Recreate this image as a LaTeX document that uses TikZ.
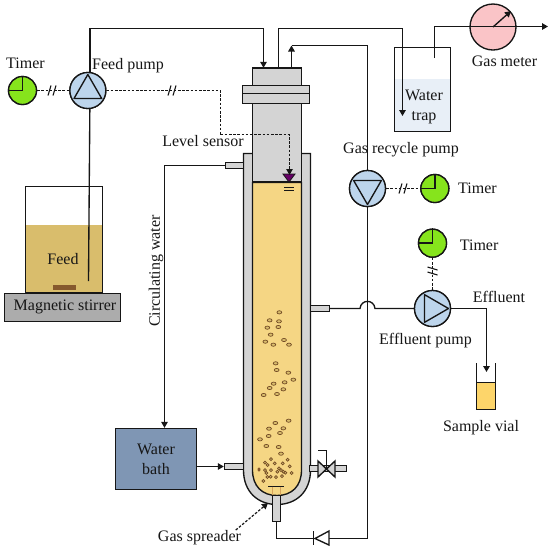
\documentclass[tikz,border=0pt]{standalone}
\usepackage{fontspec}
\setmainfont{Liberation Serif}
\usepackage{xcolor}
\usetikzlibrary{calc}
\usetikzlibrary{arrows.meta, positioning}
\definecolor{wall}{HTML}{D4D4D4}
\definecolor{broth}{HTML}{F5D684}
\definecolor{feedfill}{HTML}{D9BD6C}
\definecolor{pumpblue}{HTML}{BDD5EC}
\definecolor{clockgreen}{HTML}{86E41C}
\definecolor{bathblue}{HTML}{7F96B4}
\definecolor{trapblue}{HTML}{E8EFF7}
\definecolor{meterpink}{HTML}{FAC4C7}
\definecolor{vialgold}{HTML}{FDD56A}
\definecolor{ink}{HTML}{161616}

\begin{document}
\begin{tikzpicture}[x=1pt, y=-1pt,
    every node/.style={font=\fontsize{16}{18}\selectfont, text=ink, inner sep=0pt},
    every path/.style={draw=ink, line width=1.35pt},
    arr/.style = {-{Triangle[length=6pt,width=6.5pt]}},
    ctrl/.style = {dashed, dash pattern=on 2.6pt off 1.6pt, line width=1.2pt},
    timer/.style = {circle, draw, fill=clockgreen, minimum size=28pt},
    pump/.style = {circle, draw, fill=pumpblue, minimum size=36pt},
    box/.style = {rectangle, draw, minimum height=#1},
    port/.style = {rectangle, draw, fill=wall, minimum height=6pt},
    slashes/.pic = {\draw[line width=1.1pt] (-4,5) -- (-1,-5) (1,5) -- (4,-5);}
]
\useasboundingbox[draw=none] (0,0) rectangle (550,550);

% feed side
\node (tfeed) [timer] at (22.5,90.5) {};
\node (pfeed) [pump, right=32pt of tfeed] {};
\node (ltfeed) [above=6pt of tfeed, xshift=3pt] {Timer};
\node (lpfeed) at (128,66) {Feed pump};

\path[fill=feedfill, draw=none] (26,225) rectangle (102,292);
\node (beaker) [box=106pt, minimum width=77pt] at (64,239.5) {};
\node (stirrer) [box=28pt, minimum width=116pt, fill=gray!65!white] at (62.5,307.5) {};
\node (lstirrer) at (65,307) {Magnetic stirrer};
\path[fill=brown!70!black, draw=none] (53,285) rectangle (76,290);
\node (lfeed) at (63,259) {Feed};

% reactor
\path[fill=wall] (243.5,153.5) -- (243.5,470) .. controls (243.5,492) and (258,504.5) .. (277,504.5)
    .. controls (296,504.5) and (310.5,492) .. (310.5,470) -- (310.5,153.5) -- cycle;
\path[fill=broth] (252.5,182.5) -- (252.5,470) .. controls (252.5,486) and (262,495.5) .. (277,495.5)
    .. controls (292,495.5) and (301.5,486) .. (301.5,470) -- (301.5,182.5) -- cycle;
\node (neck) [box=114pt, minimum width=49pt, fill=wall, anchor=south] at (277,182.5) {};
\node (head) [box=17pt, minimum width=49pt, fill=wall] at (277,77) {};
\node (flange) [box=18pt, minimum width=67pt, fill=wall] at (276,94.5) {};
\draw (242.5,93.5) -- (309.5,93.5);

\node (portup) [port, minimum width=18pt] at (234.5,165.5) {};
\node (portlow) [port, minimum width=19pt] at (234,466.5) {};
\node (portout) [port, minimum width=19pt] at (320,308.5) {};
\node (portdrain) [port, minimum width=37pt] at (328,468.5) {};
\node (spreader) [port, minimum width=8pt, minimum height=26pt] at (276.5,508.5) {};
\draw[very thick] (268,486.5) -- (284,486.5);
\draw[brown!60!broth, thin] (272.5,486.5) -- (272.5,495) (280.5,486.5) -- (280.5,495);

\foreach \bx/\by in {238/112,209/136,237/139,202/158,235/156,212/179,196/200,220/209,252/195,267/209,
    227/265,230/285,265/293,280/314,254/322,221/326,209/339,250/343,231/357,191/360,
    266/437,226/444,207/461,250/460,240/474,206/483,180/493,199/513,236/516,243/536}
  \draw[draw=brown!60!black, line width=0.7pt, fill=feedfill] ({200+\bx/3},{275+\by/3}) ellipse [x radius=2.4, y radius=1.6];
\foreach \bx/\by in {213/552,263/554,195/563,224/565,248/565,203/570,269/574,213/585,195/585,237/580,
    243/585,250/590,256/593,275/594,199/594,228/606,246/603,202/606,212/605,190/618,232/590}
  \draw[draw=brown!60!black, line width=0.7pt, fill=feedfill] ({200+\bx/3},{275+\by/3}) circle [radius=1.5];
\path[fill=brown!70!black, draw=none] (259,469.5) ellipse [x radius=1.5, y radius=2];

% level sensor
\path[fill=violet!80!black, line width=0.8pt] (283,174) -- (295,174) -- (289,182) -- cycle;
\draw[thin] (284,187) -- (294,187) (284,190) -- (294,190);
\coordinate (sensor) at (289.5,175);
\coordinate (sensorbend) at (220.5,134.5);
\draw[ctrl] (pfeed.east) -| (sensorbend);
\draw[ctrl, arr] (sensorbend) -| (sensor);
\pic at (172,90.5) {slashes};
\node (lsensor) at (203,141) {Level sensor};

% gas and feed lines
\node (trapwater) [rectangle, fill=trapblue, minimum width=56pt, minimum height=53pt] at (422.5,105) {};
\node (trap) [box=84pt, minimum width=56pt] at (422.5,89.5) {};
\node (ltrap) [align=center] at (424,107) {Water\\[2pt]trap};
\node (meter) [circle, draw, fill=meterpink, minimum size=46pt] at (493,27) {};
\node (lmeter) at (504.5,61) {Gas meter};
\node (precycle) [pump] at (367.5,188.5) {};
\node (trecycle) [timer, right=34pt of precycle] {};
\node (lprecycle) at (401,150) {Gas recycle pump};
\node (ltrecycle) [right=8pt of trecycle] {Timer};
\node (peffluent) [pump] at (432.5,308.5) {};
\node (teffluent) [timer, above=32pt of peffluent] {};
\node (lteffluent) [right=12pt of teffluent, yshift=-2pt] {Timer};
\node (lpeffluent) at (425.5,341) {Effluent pump};
\node (leffluent) at (499,297) {Effluent};

\coordinate (feedtop) at (263.5,28.5);
\coordinate (trapin) at (402.5,28.5);
\coordinate (trapend) at (402.5,116);
\coordinate (recycletop) at (291.5,45.5);
\coordinate (trapout) at (434.5,58);
\coordinate (meterout) at (548,26.5);
\coordinate (feedend) at (88.5,281);
\coordinate (valvein) at (321,538.5);
\coordinate (humpl) at (360,308.5);
\coordinate (humpr) at (375,308.5);
\coordinate (vialin) at (486.5,372);

\draw[arr] ([xshift=2pt]pfeed.north) |- (feedtop) -- (feedtop |- head.north);
\draw ([xshift=2pt]pfeed.south) -- (feedend);
\draw[arr] ([xshift=1.5pt]head.north) |- (trapin) -- (trapend);
\draw (precycle.north) |- (recycletop);
\draw[arr] (recycletop |- head.north) -- (recycletop);
\draw[arr] (trapout) |- (meterout);
\draw[arr] (meter.center) -- ++(18,-16);
\draw (precycle.south) |- (valvein) -| (spreader.south);
\draw (portout.east) -- (humpl) .. controls (361,299) and (374,299) .. (humpr) -- (peffluent.west);
\draw[arr] (peffluent.east) -| (vialin);
\draw[ctrl] (tfeed) -- (pfeed);
\draw[ctrl] (precycle) -- (trecycle);
\draw[ctrl] (teffluent) -- (peffluent);
\pic at (52,90.5) {slashes};
\pic at (403,188.5) {slashes};
\pic[rotate=90] at (432.5,271) {slashes};

% redraw symbols on top of their lines
\foreach \pmp/\ang in {pfeed/90, precycle/-90, peffluent/0}{
  \node[pump] at (\pmp) {};
  \draw[line join=round] ($(\pmp)+(\ang:16pt)$) -- ($(\pmp)+(\ang+120:16pt)$) -- ($(\pmp)+(\ang+240:16pt)$) -- cycle;
}
\foreach \clk in {tfeed, trecycle, teffluent}{
  \node[timer] at (\clk) {};
  \draw (\clk.north) -- (\clk.center) -- (\clk.west);
}
\path[fill=white] (329,531) -- (329,545) -- (315,538.5) -- cycle;
\draw (313.5,531) -- (313.5,545);
\path[fill=wall] (318,461) -- (318,477) -- (326.5,469) -- cycle;
\path[fill=wall] (335,461) -- (335,477) -- (326.5,469) -- cycle;
\draw (326.5,469) -- (326.5,450.5) -- (318,450.5);

% circulating water
\node (bath) [box=61pt, minimum width=81pt, fill=bathblue, align=center] at (156,459) {Water\\[2pt]bath};
\draw[arr] (portup.west) -| ([xshift=8.5pt]bath.north);
\draw[arr] (bath.east |- portlow.west) -- (portlow.west);
\node (lwater) [rotate=90] at (156,271) {Circulating water};

% gas spreader and vial
\node (lspreader) at (199.5,538) {Gas spreader};
\coordinate (spreadtip) at (268,503);
\draw[arr, ctrl] ([xshift=-6pt]lspreader.north east) -- (spreadtip);
\path[fill=vialgold, draw=none] (476.5,382.5) rectangle (495.5,409.5);
\draw (476.5,363) -- (476.5,409.5) -- (495.5,409.5) -- (495.5,363);
\draw (476.5,382.5) -- (495.5,382.5);
\node (lvial) at (481,428) {Sample vial};
\end{tikzpicture}
\end{document}
